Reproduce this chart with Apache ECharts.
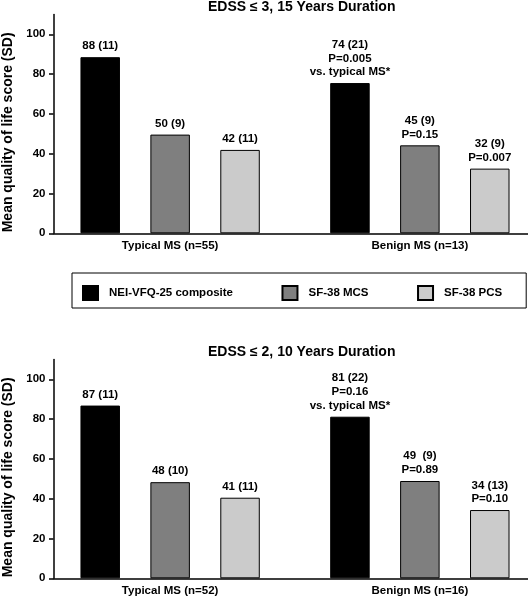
<!DOCTYPE html>
<html><head><meta charset="utf-8">
<script src="https://cdn.jsdelivr.net/npm/echarts@6/dist/echarts.min.js"></script>
<style>html,body{margin:0;padding:0;background:#fff}#c{width:528px;height:600px}</style>
</head><body><div id="c"></div>
<script>
const seriesNames = ['NEI-VFQ-25 composite', 'SF-38 MCS', 'SF-38 PCS'];
const titles = ['EDSS ≤ 3, 15 Years Duration', 'EDSS ≤ 2, 10 Years Duration'];
const yName = 'Mean quality of life score (SD)';
const yTicks = [0, 20, 40, 60, 80, 100];

// Panel 1: EDSS <= 3, 15 years
const p1Categories = ['Typical MS (n=55)', 'Benign MS (n=13)'];
const p1Composite = [88.5, 75.5];
const p1MCS = [49.6, 44.2];
const p1PCS = [41.9, 32.5];
const p1CompositeLabels = ['88 (11)', '74 (21)\nP=0.005\nvs. typical MS*'];
const p1MCSLabels = ['50 (9)', '45 (9)\nP=0.15'];
const p1PCSLabels = ['42 (11)', '32 (9)\nP=0.007'];

// Panel 2: EDSS <= 2, 10 years
const p2Categories = ['Typical MS (n=52)', 'Benign MS (n=16)'];
const p2Composite = [86.8, 81.2];
const p2MCS = [48.3, 48.9];
const p2PCS = [40.5, 34.3];
const p2CompositeLabels = ['87 (11)', '81 (22)\nP=0.16\nvs. typical MS*'];
const p2MCSLabels = ['48 (10)', '49  (9)\nP=0.89'];
const p2PCSLabels = ['41 (11)', '34 (13)\nP=0.10'];

const colors = ['#000000', '#7f7f7f', '#cbcbcb'];
const FONT = '"Liberation Sans", Arial, Helvetica, sans-serif';

const panels = [
  {cats: p1Categories, vals: [p1Composite, p1MCS, p1PCS], labels: [p1CompositeLabels, p1MCSLabels, p1PCSLabels]},
  {cats: p2Categories, vals: [p2Composite, p2MCS, p2PCS], labels: [p2CompositeLabels, p2MCSLabels, p2PCSLabels]}
];

const gridTops = [14.4, 359.4];
const grids = gridTops.map(t => ({left: 53.5, right: 0, top: t, height: 218.9, containLabel: false, outerBoundsMode: 'none'}));

const xAxes = panels.map((p, gi) => ({
  type: 'value', gridIndex: gi, min: -0.467, max: 1.433,
  axisLine: {show: true, onZero: false, lineStyle: {color: '#000', width: 1.5}},
  axisTick: {show: false},
  splitLine: {show: false},
  axisLabel: {
    customValues: [0, 1],
    formatter: v => p.cats[Math.round(v)],
    margin: 7, color: '#000', fontSize: 11.5, fontWeight: 'bold', fontFamily: FONT
  }
}));

const yAxes = panels.map((p, gi) => ({
  type: 'value', gridIndex: gi, min: 0, max: 110,
  axisLine: {show: true, onZero: false, lineStyle: {color: '#000', width: 1.5}},
  axisTick: {show: true, length: 4.5, customValues: yTicks, lineStyle: {color: '#000', width: 1.5}},
  splitLine: {show: false},
  axisLabel: {customValues: yTicks, margin: 8, color: '#000', fontSize: 11.5, fontWeight: 'bold', fontFamily: FONT},
  name: yName, nameLocation: 'middle', nameGap: 37,
  nameTextStyle: {color: '#000', fontSize: 14, fontWeight: 'bold', fontFamily: FONT, padding: [0, 17, 0, 0]}
}));

const series = [];
panels.forEach((p, gi) => {
  p.vals.forEach((vals, si) => {
    const labs = p.labels[si];
    series.push({
      type: 'bar', name: seriesNames[si], xAxisIndex: gi, yAxisIndex: gi,
      data: vals.map((v, i) => [i, v]),
      barWidth: 39.5, barGap: '77%',
      itemStyle: {color: colors[si], borderColor: '#000', borderWidth: 1},
      label: {
        show: true, position: 'top', distance: 4,
        formatter: d => labs[d.dataIndex],
        color: '#000', fontSize: 11.5, fontWeight: 'bold', fontFamily: FONT,
        lineHeight: 13.8, align: 'center'
      },
      emphasis: {disabled: true},
      animation: false
    });
  });
});

const chart = echarts.init(document.getElementById('c'), null, {renderer: 'canvas'});
chart.setOption({
  backgroundColor: '#fff',
  animation: false,
  title: [
    {text: titles[0], left: 208, top: 0, padding: 0, textStyle: {color: '#000', fontSize: 14, fontWeight: 'bold', fontFamily: FONT}},
    {text: titles[1], left: 208, top: 345.5, padding: 0, textStyle: {color: '#000', fontSize: 14, fontWeight: 'bold', fontFamily: FONT}}
  ],
  legend: {
    data: seriesNames, left: 72, top: 273, width: 500,
    padding: [12, 24, 7, 10], itemGap: 48.5, itemWidth: 15, itemHeight: 14,
    borderColor: '#000', borderWidth: 1, icon: 'rect', selectedMode: false,
    textStyle: {color: '#000', fontSize: 11.5, fontWeight: 'bold', fontFamily: FONT, padding: [0, 0, 0, 6]}
  },
  grid: grids,
  xAxis: xAxes,
  yAxis: yAxes,
  series: series
});
</script>
</body></html>
